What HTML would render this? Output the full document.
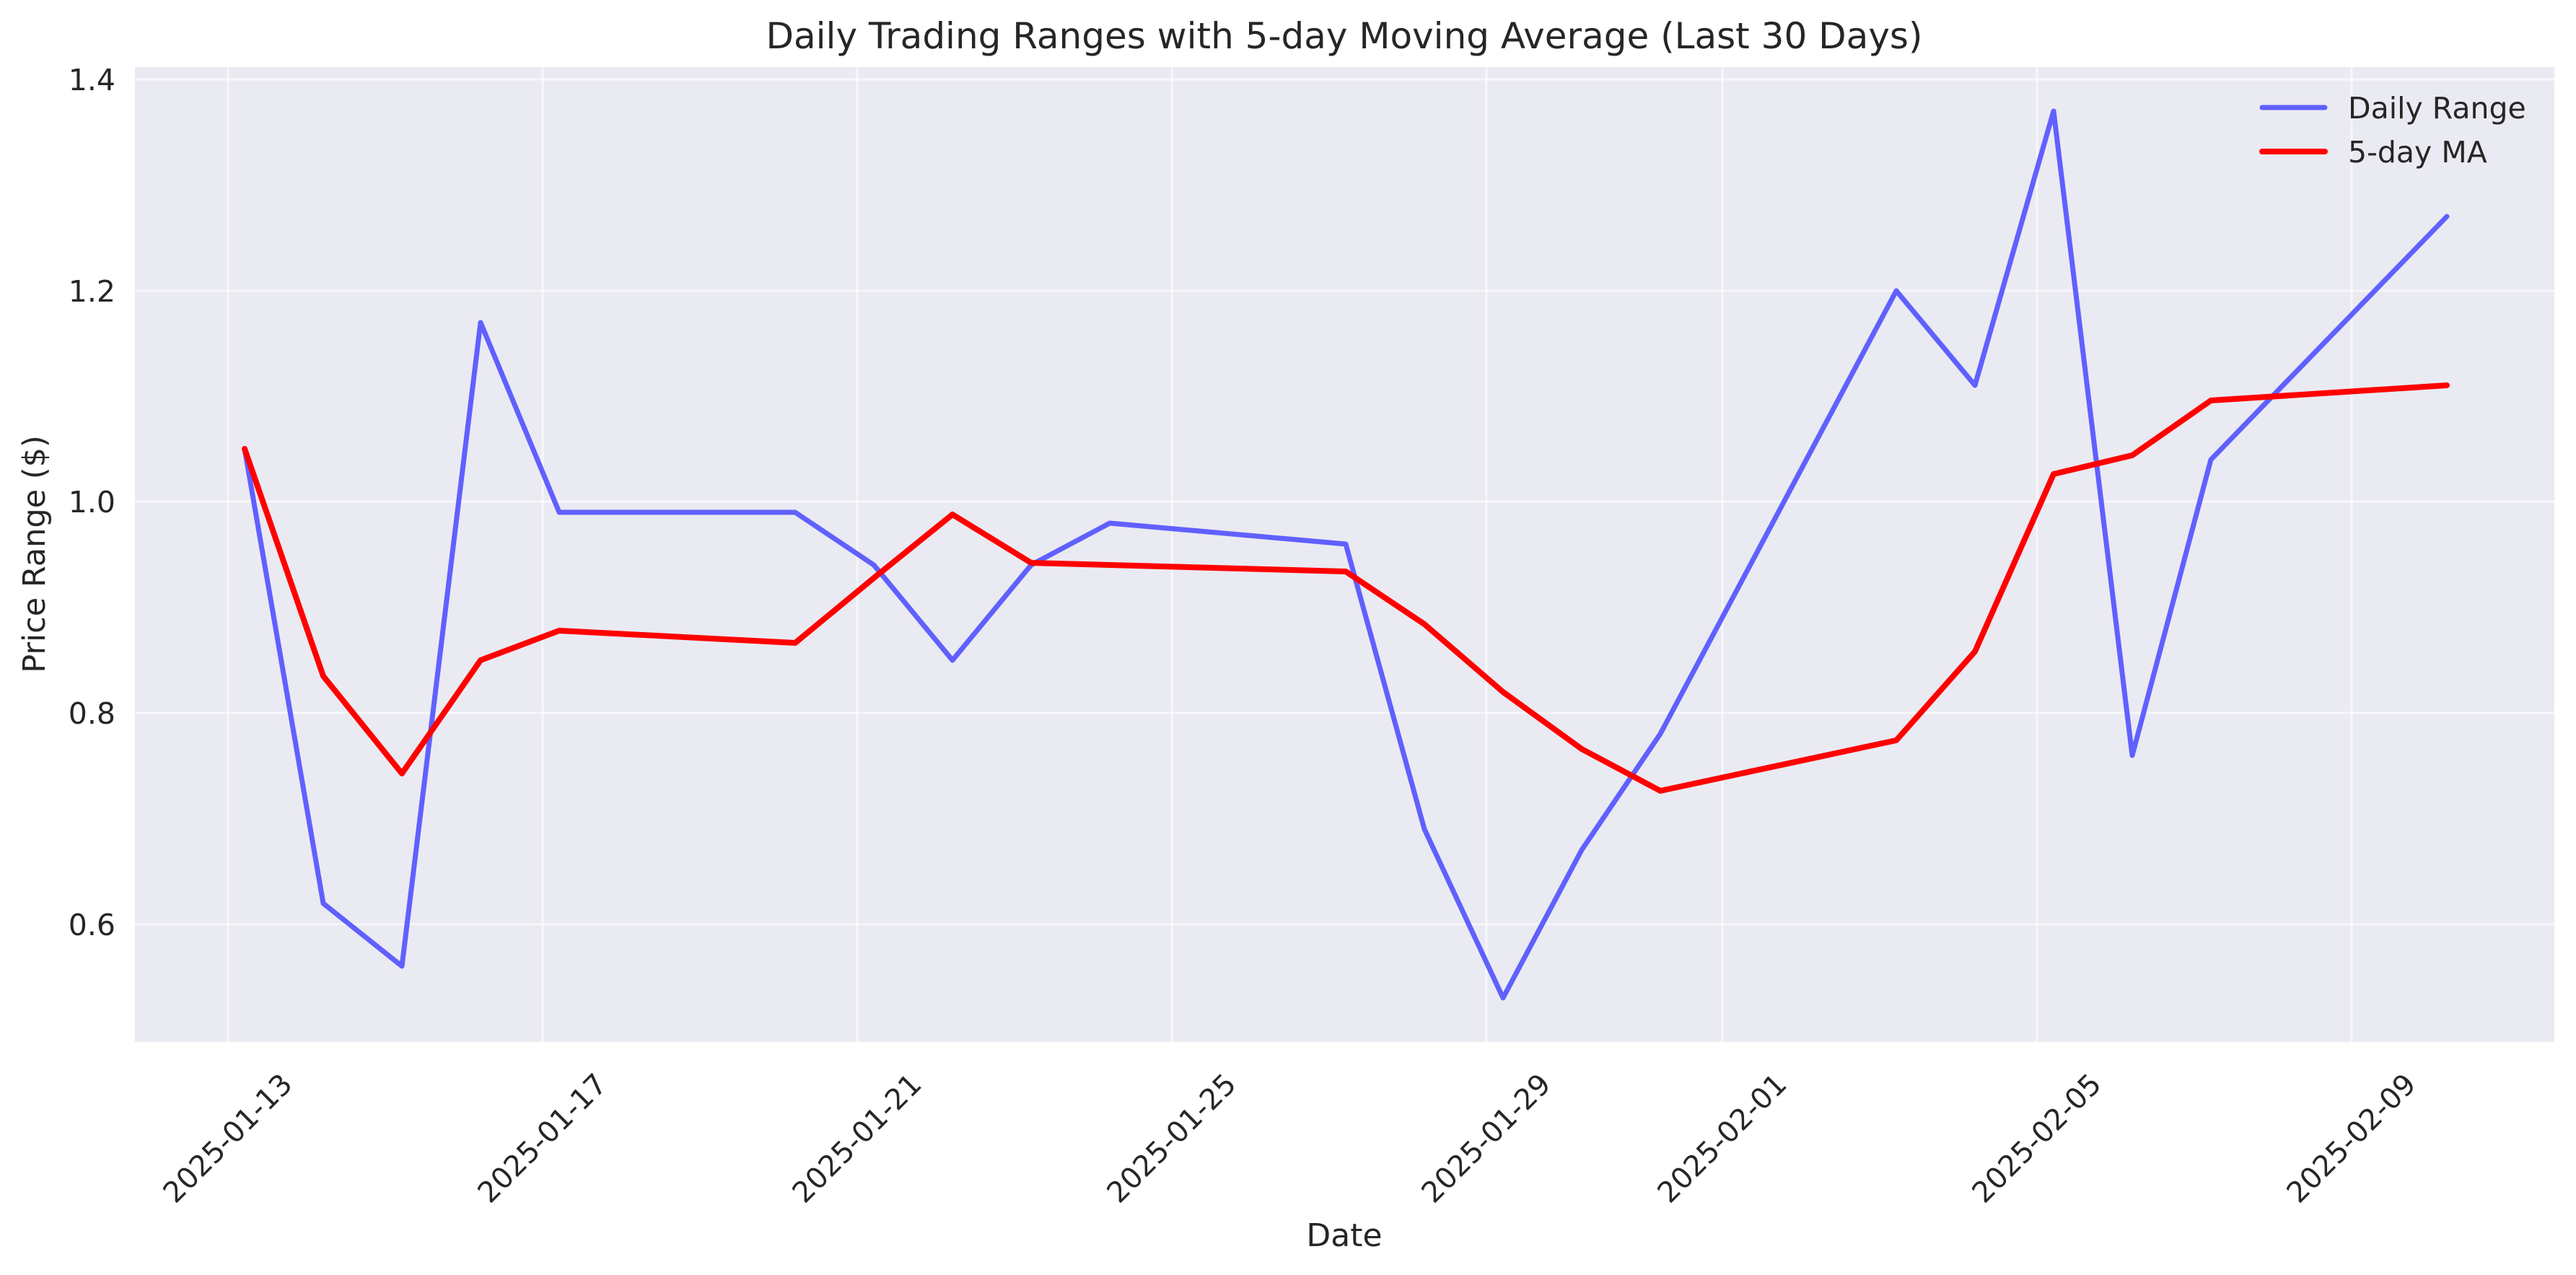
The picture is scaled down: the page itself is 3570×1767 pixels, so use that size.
<!DOCTYPE html>
<html><head><meta charset="utf-8"><style>html,body{margin:0;padding:0;background:#fff}svg{display:block}text{font-family:"DejaVu Sans","Liberation Sans",sans-serif;fill:#262626}</style></head>
<body>
<svg width="3570" height="1767" viewBox="0 0 3570 1767" xmlns="http://www.w3.org/2000/svg">
<rect x="187" y="93" width="3353" height="1351" fill="#eaeaf2"/>
<g stroke="#ffffff" stroke-opacity="0.6" stroke-width="3">
<line x1="187" x2="3540" y1="110" y2="110"/>
<line x1="187" x2="3540" y1="403" y2="403"/>
<line x1="187" x2="3540" y1="695" y2="695"/>
<line x1="187" x2="3540" y1="988" y2="988"/>
<line x1="187" x2="3540" y1="1281" y2="1281"/>
<line y1="93" y2="1444" x1="316" x2="316"/>
<line y1="93" y2="1444" x1="752" x2="752"/>
<line y1="93" y2="1444" x1="1188" x2="1188"/>
<line y1="93" y2="1444" x1="1624" x2="1624"/>
<line y1="93" y2="1444" x1="2060" x2="2060"/>
<line y1="93" y2="1444" x1="2387" x2="2387"/>
<line y1="93" y2="1444" x1="2823" x2="2823"/>
<line y1="93" y2="1444" x1="3259" x2="3259"/>
</g>
<g font-size="41" text-anchor="end">
<text x="160" y="125">1.4</text>
<text x="160" y="418">1.2</text>
<text x="160" y="710">1.0</text>
<text x="160" y="1003">0.8</text>
<text x="160" y="1296">0.6</text>
</g>
<g font-size="40" text-anchor="middle" dominant-baseline="central">
<text transform="translate(316,1578) rotate(-45)">2025-01-13</text>
<text transform="translate(752,1578) rotate(-45)">2025-01-17</text>
<text transform="translate(1188,1578) rotate(-45)">2025-01-21</text>
<text transform="translate(1624,1578) rotate(-45)">2025-01-25</text>
<text transform="translate(2060,1578) rotate(-45)">2025-01-29</text>
<text transform="translate(2387,1578) rotate(-45)">2025-02-01</text>
<text transform="translate(2823,1578) rotate(-45)">2025-02-05</text>
<text transform="translate(3259,1578) rotate(-45)">2025-02-09</text>
</g>
<text x="1863" y="67" font-size="50" text-anchor="middle">Daily Trading Ranges with 5-day Moving Average (Last 30 Days)</text>
<text x="1863" y="1727" font-size="44" text-anchor="middle">Date</text>
<text transform="translate(62,768) rotate(-90)" font-size="43" text-anchor="middle">Price Range ($)</text>
<polyline fill="none" stroke="#6060ff" stroke-width="7" stroke-linejoin="round" stroke-linecap="round" points="339,622 448,1252 557,1339 666,447 775,710 1102,710 1211,783 1320,915 1429,783 1538,725 1865,754 1974,1149 2083,1383 2192,1178 2301,1017 2628,403 2737,534 2846,154 2955,1047 3064,637 3391,300"/>
<polyline fill="none" stroke="#ff0000" stroke-width="8" stroke-linejoin="round" stroke-linecap="round" points="339,622 448,937 557,1072 666,915 775,874 1102,891 1211,801 1320,713 1429,780 1538,783 1865,792 1974,865 2083,959 2192,1038 2301,1096 2628,1026 2737,903 2846,657 2955,631 3064,555 3391,534"/>
<line x1="3135" x2="3222" y1="149" y2="149" stroke="#6060ff" stroke-width="7" stroke-linecap="round"/>
<line x1="3135" x2="3222" y1="210" y2="210" stroke="#ff0000" stroke-width="8" stroke-linecap="round"/>
<g font-size="41"><text x="3254" y="164">Daily Range</text><text x="3254" y="225">5-day MA</text></g>
</svg>
</body></html>
